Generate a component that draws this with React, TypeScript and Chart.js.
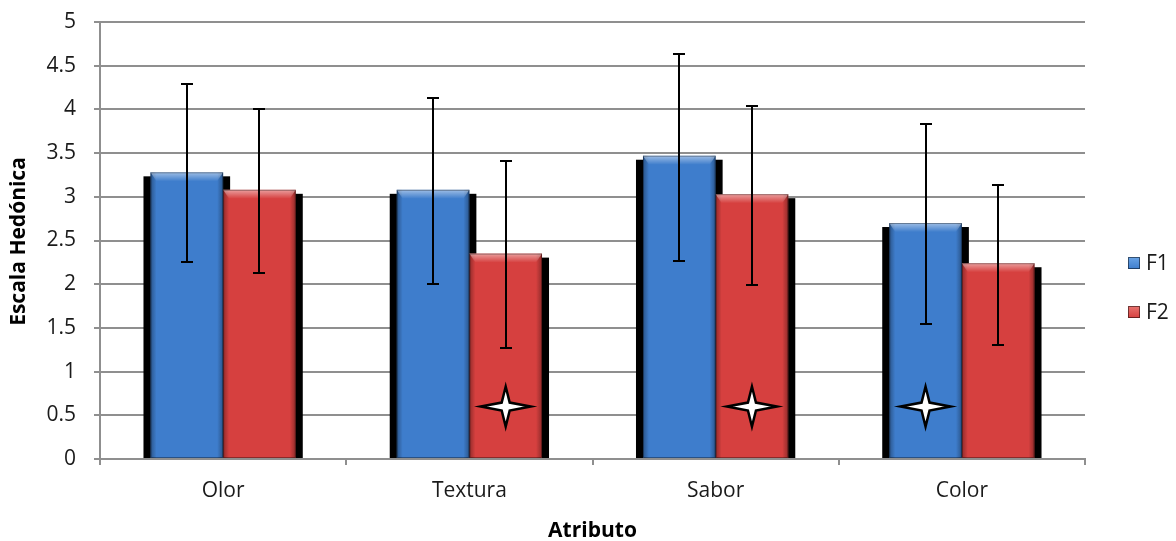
import React, { useEffect, useRef } from 'react';
import { Chart, registerables } from 'chart.js';

Chart.register(...registerables);

const categories = ['Olor', 'Textura', 'Sabor', 'Color'];
const seriesNames = ['F1', 'F2'];
const f1Values = [3.28, 3.08, 3.47, 2.7];
const f2Values = [3.08, 2.35, 3.03, 2.24];
const f1Low = [2.25, 2.0, 2.26, 1.54];
const f1High = [4.29, 4.13, 4.63, 3.83];
const f2Low = [2.13, 1.27, 1.99, 1.3];
const f2High = [4.01, 3.41, 4.04, 3.14];
const f1Stars = [null, null, null, 0.6];
const f2Stars = [null, 0.6, 0.6, null];
const yMin = 0;
const yMax = 5;
const yStep = 0.5;
const xTitle = 'Atributo';
const yTitle = 'Escala Hedónica';

const lows = [f1Low, f2Low];
const highs = [f1High, f2High];
const stars = [f1Stars, f2Stars];
const colors = ['#3e7dcc', '#d6403f'];

const FONT = '"Open Sans", "DejaVu Sans", sans-serif';
const GRID = '#8f8f8f';

function bevel(ctx: CanvasRenderingContext2D, l: number, t: number, r: number, b: number) {
  const e = 6;
  let g = ctx.createLinearGradient(l, 0, l + e, 0);
  g.addColorStop(0, 'rgba(0,0,0,0.32)');
  g.addColorStop(1, 'rgba(0,0,0,0)');
  ctx.fillStyle = g;
  ctx.fillRect(l, t, e, b - t);
  g = ctx.createLinearGradient(r - e, 0, r, 0);
  g.addColorStop(0, 'rgba(0,0,0,0)');
  g.addColorStop(1, 'rgba(0,0,0,0.32)');
  ctx.fillStyle = g;
  ctx.fillRect(r - e, t, e, b - t);
  g = ctx.createLinearGradient(0, t, 0, t + 9);
  g.addColorStop(0, 'rgba(255,255,255,0.5)');
  g.addColorStop(1, 'rgba(255,255,255,0)');
  ctx.fillStyle = g;
  ctx.beginPath();
  ctx.moveTo(l, t);
  ctx.lineTo(r, t);
  ctx.lineTo(r - e, t + 9);
  ctx.lineTo(l + e, t + 9);
  ctx.closePath();
  ctx.fill();
  ctx.strokeStyle = 'rgba(0,0,0,0.35)';
  ctx.lineWidth = 1;
  ctx.strokeRect(l + 0.5, t + 0.5, r - l - 1, b - t - 1);
}

function star(ctx: CanvasRenderingContext2D, cx: number, cy: number) {
  const rx = 25;
  const ry = 20;
  const ri = 4;
  ctx.beginPath();
  ctx.moveTo(cx + rx, cy);
  ctx.lineTo(cx + ri, cy + ri);
  ctx.lineTo(cx, cy + ry);
  ctx.lineTo(cx - ri, cy + ri);
  ctx.lineTo(cx - rx, cy);
  ctx.lineTo(cx - ri, cy - ri);
  ctx.lineTo(cx, cy - ry);
  ctx.lineTo(cx + ri, cy - ri);
  ctx.closePath();
  ctx.fillStyle = '#ffffff';
  ctx.fill();
  ctx.strokeStyle = '#000';
  ctx.lineWidth = 2.5;
  ctx.lineJoin = 'miter';
  ctx.stroke();
}

const decor = {
  id: 'decor',
  beforeDatasetsDraw(chart: any) {
    const ctx = chart.ctx;
    ctx.save();
    ctx.fillStyle = '#000';
    chart.data.datasets.forEach((_: any, i: number) => {
      const meta = chart.getDatasetMeta(i);
      meta.data.forEach((bar: any) => {
        const { x, y, base, width } = bar.getProps(['x', 'y', 'base', 'width'], true);
        ctx.fillRect(x - width / 2 - 7, y + 4, width + 14, base - y - 4);
      });
    });
    ctx.restore();
  },
  afterDatasetsDraw(chart: any) {
    const ctx = chart.ctx;
    const ys = chart.scales.y;
    ctx.save();
    chart.data.datasets.forEach((_: any, i: number) => {
      const meta = chart.getDatasetMeta(i);
      meta.data.forEach((bar: any) => {
        const { x, y, base, width } = bar.getProps(['x', 'y', 'base', 'width'], true);
        bevel(ctx, x - width / 2, y, x + width / 2, base);
      });
    });
    ctx.strokeStyle = '#000';
    ctx.lineWidth = 2;
    chart.data.datasets.forEach((_: any, i: number) => {
      const meta = chart.getDatasetMeta(i);
      meta.data.forEach((bar: any, j: number) => {
        const x = Math.round(bar.x);
        const yl = Math.round(ys.getPixelForValue(lows[i][j]));
        const yh = Math.round(ys.getPixelForValue(highs[i][j]));
        ctx.beginPath();
        ctx.moveTo(x, yl);
        ctx.lineTo(x, yh);
        ctx.moveTo(x - 6, yl);
        ctx.lineTo(x + 6, yl);
        ctx.moveTo(x - 6, yh);
        ctx.lineTo(x + 6, yh);
        ctx.stroke();
      });
    });
    chart.data.datasets.forEach((_: any, i: number) => {
      const meta = chart.getDatasetMeta(i);
      meta.data.forEach((bar: any, j: number) => {
        const v = stars[i][j];
        if (v == null) return;
        star(ctx, bar.x, ys.getPixelForValue(v));
      });
    });
    ctx.restore();
  },
  afterDraw(chart: any) {
    const ctx = chart.ctx;
    const area = chart.chartArea;
    ctx.save();
    ctx.fillStyle = '#000';
    ctx.font = `bold 21px ${FONT}`;
    ctx.textAlign = 'center';
    ctx.textBaseline = 'middle';
    ctx.fillText(xTitle, (area.left + area.right) / 2, 531);
    ctx.translate(19, (area.top + area.bottom) / 2 + 1);
    ctx.rotate(-Math.PI / 2);
    ctx.fillText(yTitle, 0, 0);
    ctx.restore();

    ctx.save();
    seriesNames.forEach((name, i) => {
      const cy = 263 + i * 49;
      const sx = 1128;
      const g = ctx.createLinearGradient(0, cy - 6, 0, cy + 6);
      g.addColorStop(0, i === 0 ? '#6aa4e6' : '#e87470');
      g.addColorStop(1, colors[i]);
      ctx.fillStyle = g;
      ctx.fillRect(sx, cy - 6, 12, 12);
      ctx.strokeStyle = 'rgba(0,0,0,0.5)';
      ctx.lineWidth = 1;
      ctx.strokeRect(sx + 0.5, cy - 5.5, 11, 11);
      ctx.fillStyle = '#1a1a1a';
      ctx.font = `21px ${FONT}`;
      ctx.textAlign = 'left';
      ctx.textBaseline = 'middle';
      ctx.fillText(name, 1146, cy + 1);
    });
    ctx.restore();
  },
};

export default function App() {
  const ref = useRef<HTMLCanvasElement | null>(null);
  useEffect(() => {
    if (!ref.current) return;
    const chart = new Chart(ref.current, {
      type: 'bar',
      data: {
        labels: categories,
        datasets: [
          { label: seriesNames[0], data: f1Values, backgroundColor: colors[0], borderWidth: 0 },
          { label: seriesNames[1], data: f2Values, backgroundColor: colors[1], borderWidth: 0 },
        ],
      },
      options: {
        animation: false,
        responsive: true,
        maintainAspectRatio: false,
        layout: { padding: { left: 0, right: 91, top: 22, bottom: 0 } },
        plugins: { legend: { display: false }, tooltip: { enabled: false } },
        datasets: { bar: { categoryPercentage: 0.59, barPercentage: 1 } },
        scales: {
          x: {
            grid: { display: true, drawOnChartArea: false, drawTicks: true, tickLength: 6, color: GRID, lineWidth: 2, offset: true },
            border: { display: true, color: GRID, width: 2 },
            ticks: { color: '#1a1a1a', font: { family: FONT, size: 21 }, padding: 13 },
            afterFit: (s: any) => { s.height = 82; s.paddingLeft = 0; s.paddingRight = 0; },
          },
          y: {
            min: yMin,
            max: yMax,
            grid: { color: GRID, lineWidth: 2, tickLength: 6, drawTicks: true },
            border: { display: true, color: GRID, width: 2 },
            ticks: {
              stepSize: yStep,
              color: '#1a1a1a',
              font: { family: FONT, size: 21 },
              padding: 18,
              callback: (v: any) => String(Number(v)),
            },
            afterFit: (s: any) => { s.width = 100; s.paddingTop = 0; s.paddingBottom = 0; },
          },
        },
      },
      plugins: [decor],
    });
    return () => chart.destroy();
  }, []);
  return (
    <div style={{ position: 'absolute', left: 0, top: 0, width: 1176, height: 541, background: '#fff' }}>
      <canvas ref={ref} />
    </div>
  );
}
